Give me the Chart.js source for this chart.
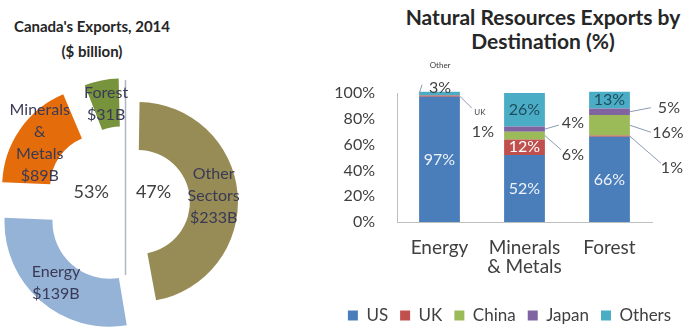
<!DOCTYPE html>
<html>
<head>
<meta charset="utf-8">
<script src="https://cdn.jsdelivr.net/npm/chart.js@4.4.1/dist/chart.umd.min.js"></script>
<style>
  html, body { margin: 0; padding: 0; background: #fff; overflow: hidden; }
  body { width: 690px; height: 329px; position: relative; font-family: Lato, sans-serif; }
  .ttl { position: absolute; font-weight: bold; color: #262626; text-align: center; white-space: nowrap; }
  #ttlLeft { left: 0; top: 14px; width: 184px; font-size: 15px; line-height: 25px; }
  #ttlRight { left: 396px; top: 5px; width: 294px; font-size: 21px; line-height: 24px; }
  canvas { position: absolute; top: 0; }
  #pie { left: 0; }
  #bars { left: 329px; }
</style>
</head>
<body>
<div class="ttl" id="ttlLeft">Canada's Exports, 2014<br>($ billion)</div>
<div class="ttl" id="ttlRight">Natural Resources Exports by<br>Destination (%)</div>
<canvas id="pie" width="260" height="329"></canvas>
<canvas id="bars" width="361" height="334"></canvas>
<script>
// exports by sector, $ billion
var sectors = ['Other Sectors', 'Energy', 'Minerals & Metals', 'Forest'];
var sectorLines = [['Other', 'Sectors'], ['Energy'], ['Minerals', '&', 'Metals'], ['Forest']];
var sectorValues = [233, 139, 89, 31];

// natural resources exports by destination, %
var categories = ['Energy', ['Minerals', '& Metals'], 'Forest'];
var destinations = ['US', 'UK', 'China', 'Japan', 'Others'];
var usShare = [97, 52, 66];
var ukShare = [1, 12, 1];
var chinaShare = [0, 6, 16];
var japanShare = [0, 4, 5];
var othersShare = [3, 26, 13];
var yTicks = [0, 20, 40, 60, 80, 100];

var sectorColors = ['#978c55', '#95b3d7', '#e46c0a', '#77933c'];
var destColors = ['#4a7ebb', '#c0504d', '#9bbb59', '#8064a2', '#4bacc6'];
// arc offset option is 4x the pixel shift (see ArcElement.draw)
var pieOffsets = [48, 100, 116, 100];
// the energy slice sits a little wider than the rest
var pieGrow = [0, 5, 0, 0];

Chart.defaults.font.family = 'Lato, sans-serif';
Chart.defaults.color = '#404040';

// offset arcs also get their radii grown by chart.js, take that back out
var arcTrim = {
  id: 'arcTrim',
  afterDatasetUpdate: function(chart, args) {
    args.meta.data.forEach(function(arc, i) {
      var o = (arc.options.offset || 0) / 4;
      var circ = arc.endAngle - arc.startAngle;
      var extra = o * (1 - Math.sin(Math.min(Math.PI, circ)));
      arc.innerRadius -= extra - pieGrow[i];
      arc.outerRadius -= extra - pieGrow[i];
    });
  }
};

var pieLabels = {
  id: 'pieLabels',
  beforeDatasetsDraw: function(chart) {
    var meta = chart.getDatasetMeta(0);
    var c = meta.controller, arc = meta.data[0];
    var ctx = chart.ctx;
    ctx.save();
    ctx.strokeStyle = '#aeb6c4';
    ctx.lineWidth = 1.5;
    ctx.beginPath();
    ctx.moveTo(arc.x - 0.5, arc.y - c.outerRadius * 1.23);
    ctx.lineTo(arc.x - 0.5, arc.y + c.outerRadius * 0.72);
    ctx.stroke();
    ctx.restore();
  },
  afterDatasetsDraw: function(chart) {
    var meta = chart.getDatasetMeta(0);
    var c = meta.controller;
    var ctx = chart.ctx;
    var total = sectorValues.reduce(function(a, b) { return a + b; }, 0);
    ctx.save();
    ctx.textAlign = 'center';
    ctx.textBaseline = 'middle';
    ctx.fillStyle = '#3a3a56';
    ctx.font = '16px Lato';
    meta.data.forEach(function(arc, i) {
      var mid = (arc.startAngle + arc.endAngle) / 2;
      var r = (c.innerRadius + c.outerRadius) / 2 + pieGrow[i] + arc.options.offset / 4;
      var x = arc.x + Math.cos(mid) * r;
      var y = arc.y + Math.sin(mid) * r;
      var lines = sectorLines[i].concat('$' + sectorValues[i] + 'B');
      var lh = 22;
      lines.forEach(function(t, k) {
        ctx.fillText(t, x, y + (k - (lines.length - 1) / 2) * lh);
      });
    });
    var cx = meta.data[0].x, cy = meta.data[0].y;
    var right = sectorValues[0], left = total - right;
    ctx.fillStyle = '#404040';
    ctx.font = '18px Lato';
    ctx.fillText(Math.round(left / total * 100) + '%', cx - 0.67 * c.innerRadius, cy - 11);
    ctx.fillText(Math.round(right / total * 100) + '%', cx + 0.53 * c.innerRadius, cy - 11);
    ctx.restore();
  }
};

new Chart(document.getElementById('pie'), {
  type: 'doughnut',
  data: {
    labels: sectors,
    datasets: [{
      data: sectorValues,
      backgroundColor: sectorColors,
      borderWidth: 0,
      offset: pieOffsets
    }]
  },
  options: {
    responsive: false,
    animation: false,
    events: [],
    radius: 100,
    cutout: '52%',
    layout: { padding: { left: 0, right: 8, top: 77, bottom: 0 } },
    plugins: { legend: { display: false }, tooltip: { enabled: false } }
  },
  plugins: [arcTrim, pieLabels]
});

// how each value is labelled: inside the segment or out on a leader line
// key is dataset-category, offsets are from the segment's side edge
var labelSpots = {
  '0-0': { fill: '#eef3fa' }, '0-1': { fill: '#eef3fa' }, '0-2': { fill: '#eef3fa' },
  '1-0': { side: 1, line: [12, 12], text: [23, 36], tag: ['UK', 20, 16] },
  '1-1': { fill: '#ffffff' },
  '1-2': { side: 1, line: [31, 27], text: [42, 32] },
  '2-1': { side: 1, line: [16, 14], text: [28, 19] },
  '2-2': { side: 1, line: [21, 7], text: [38, 8] },
  '3-1': { side: 1, line: [14, -4], text: [28, -6] },
  '3-2': { side: 1, line: [21, -4], text: [39, -4] },
  '4-0': { side: -1, line: [3, -9], text: [21, -6], tag: ['Other', 21, -28] },
  '4-1': { fill: '#1e4d5c' },
  '4-2': { fill: '#1e4d5c' }
};

var barLabels = {
  id: 'barLabels',
  afterDatasetsDraw: function(chart) {
    var ctx = chart.ctx;
    ctx.save();
    ctx.textAlign = 'center';
    ctx.textBaseline = 'middle';
    chart.data.datasets.forEach(function(ds, d) {
      chart.getDatasetMeta(d).data.forEach(function(bar, i) {
        var spot = labelSpots[d + '-' + i];
        if (!spot || !ds.data[i]) return;
        var txt = ds.data[i] + '%';
        var ym = (bar.y + bar.base) / 2;
        ctx.font = '16px Lato';
        if (spot.fill) {
          ctx.fillStyle = spot.fill;
          ctx.fillText(txt, bar.x, ym);
          return;
        }
        var ex = bar.x + spot.side * bar.width / 2;
        ctx.strokeStyle = '#8b9bb4';
        ctx.lineWidth = 1;
        ctx.beginPath();
        ctx.moveTo(ex, ym);
        ctx.lineTo(ex + spot.line[0], ym + spot.line[1]);
        ctx.stroke();
        ctx.fillStyle = '#404040';
        ctx.fillText(txt, ex + spot.text[0], ym + spot.text[1]);
        if (spot.tag) {
          ctx.font = '8px Lato';
          ctx.fillText(spot.tag[0], ex + spot.tag[1], ym + spot.tag[2]);
        }
      });
    });
    ctx.restore();
  }
};

var shares = [usShare, ukShare, chinaShare, japanShare, othersShare];

new Chart(document.getElementById('bars'), {
  type: 'bar',
  data: {
    labels: categories,
    datasets: destinations.map(function(name, k) {
      return {
        label: name,
        data: shares[k],
        backgroundColor: destColors[k],
        stack: 'dest',
        barPercentage: 0.6,
        categoryPercentage: 0.8,
        clip: false
      };
    })
  },
  options: {
    responsive: false,
    animation: false,
    events: [],
    layout: { padding: { top: 93, left: 0, right: 0, bottom: 0 } },
    scales: {
      x: {
        stacked: true,
        grid: { display: false, drawTicks: false },
        border: { color: '#bfbfbf' },
        ticks: { font: { size: 19, lineHeight: 1 }, padding: 16, color: '#404040' },
        afterFit: function(s) { s.height = 73; }
      },
      y: {
        stacked: true,
        min: 0,
        max: 100,
        grid: { display: false, drawTicks: false },
        border: { color: '#bfbfbf' },
        ticks: {
          font: { size: 16 }, padding: 22, color: '#404040', autoSkip: false,
          callback: function(v) { return v + '%'; }
        },
        afterBuildTicks: function(s) { s.ticks = yTicks.map(function(v) { return { value: v }; }); },
        afterFit: function(s) { s.width = 68; }
      },
      yR: {
        position: 'right',
        grid: { display: false, drawTicks: false },
        border: { display: false },
        ticks: { display: false },
        afterFit: function(s) { s.width = 38; }
      }
    },
    plugins: {
      legend: {
        position: 'bottom',
        labels: { boxWidth: 10, boxHeight: 10, padding: 12, font: { size: 17 }, color: '#404040' }
      },
      tooltip: { enabled: false }
    }
  },
  plugins: [barLabels]
});
</script>
</body>
</html>
